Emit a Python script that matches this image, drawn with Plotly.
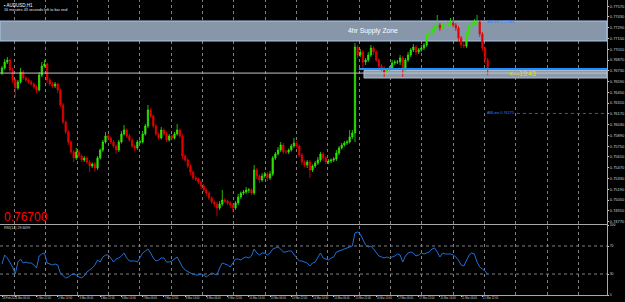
import plotly.graph_objects as go

# ---------------- data ----------------
SYMBOL = "AUDUSD,H1"
BAR_HOURS = 2            # each drawn candle = 2 trading hours
FIRST_OPEN = 0.76700
POINT = 0.00001

CLOSES = [
    0.76766, 0.76844, 0.76870, 0.76740, 0.76610, 0.76506, 0.76584, 0.76714, 0.76636, 0.76610,
    0.76584, 0.76558, 0.76519, 0.76480, 0.76675, 0.76792, 0.76818, 0.76610, 0.76558, 0.76532,
    0.76558, 0.76480, 0.76285, 0.76064, 0.75934, 0.75804, 0.75674, 0.75596, 0.75674, 0.75622,
    0.75570, 0.75596, 0.75544, 0.75492, 0.75518, 0.75466, 0.75596, 0.75700, 0.75804, 0.75882,
    0.75856, 0.75804, 0.75752, 0.75700, 0.75804, 0.75908, 0.75960, 0.75882, 0.75830, 0.75752,
    0.75726, 0.75804, 0.75804, 0.75908, 0.76012, 0.76220, 0.76142, 0.76012, 0.75908, 0.75856,
    0.75960, 0.75908, 0.75830, 0.75882, 0.75856, 0.75908, 0.75960, 0.75882, 0.75622, 0.75570,
    0.75492, 0.75414, 0.75336, 0.75323, 0.75284, 0.75232, 0.75180, 0.75141, 0.75076, 0.75024,
    0.74998, 0.74946, 0.74998, 0.75050, 0.75037, 0.75011, 0.74985, 0.74946, 0.75011, 0.75089,
    0.75141, 0.75154, 0.75180, 0.75180, 0.75141, 0.75440, 0.75362, 0.75310, 0.75362, 0.75388,
    0.75336, 0.75388, 0.75596, 0.75648, 0.75700, 0.75765, 0.75674, 0.75674, 0.75700, 0.75752,
    0.75791, 0.75752, 0.75635, 0.75544, 0.75505, 0.75544, 0.75440, 0.75492, 0.75531, 0.75570,
    0.75648, 0.75596, 0.75544, 0.75557, 0.75570, 0.75583, 0.75661, 0.75726, 0.75765, 0.75791,
    0.75804, 0.75869, 0.75921, 0.77039, 0.76935, 0.76974, 0.76844, 0.76870, 0.76935, 0.77026,
    0.76974, 0.76870, 0.76792, 0.76766, 0.76714, 0.76740, 0.76766, 0.76831, 0.76844, 0.76844,
    0.76896, 0.76740, 0.76870, 0.76935, 0.77000, 0.77039, 0.76974, 0.77000, 0.77026, 0.77065,
    0.77182, 0.77221, 0.77273, 0.77299, 0.77325, 0.77286, 0.77312, 0.77325, 0.77338, 0.77351,
    0.77325, 0.77286, 0.77156, 0.77065, 0.77052, 0.77208, 0.77312, 0.77351, 0.77364, 0.77364,
    0.77208, 0.77026, 0.76870, 0.76753,
]

HIGH_WICK = [  # in points
    26, 39, 39, 20, 26, 20, 26, 52, 26, 20,
    20, 26, 20, 26, 39, 52, 52, 20, 26, 26,
    26, 20, 20, 26, 20, 26, 20, 26, 52, 26,
    20, 26, 20, 26, 20, 26, 26, 20, 26, 52,
    26, 20, 26, 20, 26, 39, 65, 20, 26, 20,
    20, 26, 26, 39, 26, 65, 26, 20, 26, 20,
    39, 20, 26, 26, 20, 26, 78, 20, 26, 20,
    20, 26, 20, 26, 20, 20, 26, 20, 26, 20,
    20, 26, 39, 130, 26, 20, 26, 20, 26, 39,
    20, 26, 39, 26, 20, 65, 26, 20, 39, 26,
    26, 39, 26, 26, 39, 39, 26, 26, 20, 26,
    65, 26, 20, 26, 20, 26, 26, 20, 26, 39,
    26, 26, 20, 26, 20, 26, 39, 26, 26, 26,
    26, 91, 39, 52, 26, 39, 26, 26, 39, 39,
    26, 26, 20, 26, 20, 26, 26, 39, 26, 26,
    39, 26, 26, 39, 26, 39, 26, 26, 39, 26,
    39, 39, 26, 26, 130, 26, 39, 26, 39, 65,
    26, 26, 26, 26, 39, 39, 39, 26, 39, 91,
    26, 26, 20, 26,
]

LOW_WICK = [  # in points
    26, 20, 26, 26, 39, 117, 26, 20, 26, 26,
    26, 20, 26, 39, 20, 26, 20, 39, 26, 26,
    26, 39, 26, 26, 26, 39, 26, 52, 26, 26,
    26, 26, 26, 78, 26, 52, 26, 20, 26, 20,
    26, 26, 26, 52, 26, 20, 20, 26, 26, 26,
    39, 26, 20, 20, 20, 26, 26, 26, 26, 26,
    20, 26, 26, 20, 26, 20, 20, 26, 39, 26,
    26, 39, 26, 26, 26, 39, 26, 39, 26, 26,
    39, 104, 26, 26, 26, 26, 39, 52, 26, 26,
    26, 26, 26, 39, 26, 26, 39, 39, 26, 26,
    39, 26, 26, 26, 20, 26, 26, 26, 26, 20,
    26, 26, 26, 39, 26, 39, 104, 26, 26, 26,
    26, 39, 26, 26, 26, 26, 26, 26, 20, 20,
    26, 20, 26, 117, 39, 26, 78, 39, 26, 26,
    39, 26, 39, 39, 65, 26, 26, 26, 26, 26,
    39, 91, 26, 26, 26, 26, 39, 26, 26, 26,
    26, 26, 26, 26, 26, 39, 26, 26, 26, 26,
    26, 39, 52, 39, 26, 26, 26, 26, 26, 39,
    39, 39, 52, 78,
]

RSI = [
    44.3, 57.1, 52.9, 45.7, 40.0, 30.0, 47.1, 51.4, 45.7, 47.1,
    45.7, 45.7, 42.9, 38.6, 55.7, 58.6, 60.0, 45.7, 44.3, 42.9,
    44.3, 42.9, 31.4, 27.1, 24.3, 25.7, 28.6, 30.0, 28.6, 25.7,
    24.3, 27.1, 32.9, 35.7, 38.6, 42.9, 50.0, 47.1, 54.3, 57.1,
    57.1, 52.9, 47.1, 51.4, 52.9, 55.7, 60.0, 52.9, 48.6, 48.6,
    48.6, 47.1, 52.9, 60.0, 62.9, 65.7, 60.0, 52.9, 48.6, 50.0,
    52.9, 52.9, 47.1, 47.1, 48.6, 51.4, 54.3, 47.1, 40.0, 35.7,
    32.9, 31.4, 30.0, 28.6, 28.6, 30.0, 28.6, 25.7, 28.6, 31.4,
    30.0, 28.6, 38.6, 45.7, 44.3, 42.9, 40.0, 45.7, 51.4, 51.4,
    50.0, 52.9, 54.3, 52.9, 55.7, 65.7, 60.0, 57.1, 60.0, 60.0,
    57.1, 60.0, 65.7, 67.1, 68.6, 65.7, 61.4, 61.4, 62.9, 62.9,
    58.6, 54.3, 48.6, 48.6, 47.1, 45.7, 41.4, 45.7, 47.1, 54.3,
    60.0, 52.9, 51.4, 50.0, 52.9, 54.3, 61.4, 62.9, 64.3, 65.7,
    67.1, 68.6, 70.0, 88.6, 90.0, 87.1, 78.6, 71.4, 68.6, 70.0,
    65.7, 61.4, 55.7, 54.3, 52.9, 54.3, 52.9, 54.3, 55.7, 58.6,
    57.1, 47.1, 55.7, 60.0, 61.4, 60.0, 55.7, 57.1, 60.0, 58.6,
    60.0, 61.4, 65.7, 67.1, 61.4, 54.3, 60.0, 58.6, 58.6, 58.6,
    57.1, 54.3, 50.0, 42.9, 41.4, 48.6, 57.1, 60.0, 58.6, 47.1,
    40.0, 37.1, 34.3, 29.6,
]

PRICE_TICKS = [0.7757, 0.7743, 0.7729, 0.7715, 0.7701, 0.7687, 0.7673, 0.7659,
               0.7645, 0.7631, 0.7617, 0.7603, 0.7589, 0.7575, 0.7561, 0.7547,
               0.7533, 0.7519, 0.7505, 0.7491, 0.7477]
PRICE_LABELS = ["%.5f" % v for v in PRICE_TICKS]

TIME_LABELS = ["28 Feb 2017", "1 Mar 06:00", "1 Mar 22:00", "2 Mar 14:00", "3 Mar 06:00",
               "3 Mar 22:00", "6 Mar 14:00", "7 Mar 06:00", "7 Mar 22:00", "8 Mar 14:00",
               "9 Mar 06:00", "9 Mar 22:00", "10 Mar 14:00", "13 Mar 06:00", "13 Mar 22:00",
               "14 Mar 14:00", "15 Mar 06:00", "15 Mar 22:00", "16 Mar 14:00", "17 Mar 06:00",
               "17 Mar 22:00", "20 Mar 14:00", "21 Mar 06:00", "21 Mar 22:00"]
TIME_LABEL_HOURS = [0] + [10 + 16 * k for k in range(len(TIME_LABELS) - 1)]

RSI_TICKS = [0, 30, 70, 100]
RSI_LEVELS = [30, 70]

SUPPLY_ZONE = (0.77117, 0.77377)
LOWER_ZONE = (0.76636, 0.76733)
LOWER_ZONE_START_H = 272.8
BID_LEVEL = 0.76700
BLUE_LEVEL = 0.76753
BLUE_LEVEL_START_H = 269.0
AB_LEVEL = 0.76175
AB_LEVEL_START_H = 388.0
AB_TOP_LEVEL = 0.77364

# ---------------- build ----------------
n = len(CLOSES)
xs = [i * BAR_HOURS for i in range(n)]
opens = [FIRST_OPEN] + CLOSES[:-1]
highs = [max(o, c) + w * POINT for o, c, w in zip(opens, CLOSES, HIGH_WICK)]
lows = [min(o, c) - w * POINT for o, c, w in zip(opens, CLOSES, LOW_WICK)]

W, H = 625, 302
ML, MR, MT, MB = 0, 18, 0, 7
PW, PH = W - ML - MR, H - MT - MB
PX_PER_H = 1.327
X0 = -2 / PX_PER_H
X1 = X0 + PW / PX_PER_H
# vertical grid every ~31.3 px, snapped to pixel centres so the dots stay crisp
GRID_PX = [round(14 + 31.33 * k) + 0.5 for k in range(19)]
GRID = [X0 + p / PX_PER_H for p in GRID_PX]

main_bottom = 1 - 224 / PH
rsi_top = 70 / PH

FONT = "Liberation Sans, Arial, sans-serif"
AXC = "#d0d0d0"
GRIDC = "#808080"

fig = go.Figure()
fig.add_trace(go.Candlestick(
    x=xs, open=opens, high=highs, low=lows, close=CLOSES,
    xaxis="x", yaxis="y",
    increasing=dict(line=dict(color="#2ee600", width=0.8), fillcolor="#2ee600"),
    decreasing=dict(line=dict(color="#e60000", width=0.8), fillcolor="#e60000"),
    whiskerwidth=0, showlegend=False, hoverinfo="skip"))
fig.add_trace(go.Scatter(
    x=xs, y=RSI, xaxis="x2", yaxis="y2", mode="lines",
    line=dict(color="#1f6fd6", width=1), showlegend=False, hoverinfo="skip"))
fig.add_trace(go.Scatter(
    x=[X0], y=[50], xaxis="x3", yaxis="y2", mode="markers",
    marker=dict(opacity=0), showlegend=False, hoverinfo="skip"))

axline = dict(showline=True, mirror=True, linecolor="#a8a8a8", linewidth=1, zeroline=False,
              automargin=False)

fig.update_layout(
    width=W, height=H,
    margin=dict(l=ML, r=MR, t=MT, b=MB, autoexpand=False),
    paper_bgcolor="black", plot_bgcolor="black",
    font=dict(family=FONT, color=AXC, size=5),
    showlegend=False,
    xaxis=dict(domain=[0, 1], anchor="y", range=[X0, X1], showticklabels=False,
               ticks="", showgrid=False, rangeslider=dict(visible=False), **axline),
    yaxis=dict(domain=[main_bottom, 1], anchor="x", side="right",
               range=[0.74738, 0.77650], tickvals=PRICE_TICKS, ticktext=PRICE_LABELS,
               showgrid=False, ticks="outside", ticklen=1, tickcolor=AXC,
               ticklabelstandoff=0,
               tickfont=dict(size=4.0, color=AXC), **axline),
    xaxis2=dict(domain=[0, 1], anchor="y2", range=[X0, X1], showticklabels=False,
                ticks="", showgrid=False, **axline),
    xaxis3=dict(overlaying="x2", anchor="y2", side="bottom", range=[X0, X1],
                tickvals=TIME_LABEL_HOURS, ticktext=TIME_LABELS, showgrid=False,
                ticks="outside", ticklen=1, tickcolor=AXC, tickangle=0,
                ticklabelposition="outside right", ticklabelstandoff=0,
                tickfont=dict(size=2.6, color=AXC), zeroline=False, showline=False,
                automargin=False),
    yaxis2=dict(domain=[0, rsi_top], anchor="x2", side="right", range=[0, 100],
                tickvals=RSI_TICKS, showgrid=False, ticks="outside", ticklen=1,
                tickcolor=AXC, ticklabelstandoff=0,
                tickfont=dict(size=3.4, color=AXC), **axline),
)

dot = dict(color=GRIDC, width=1, dash="dot")
shapes = []
# vertical grid (main + RSI panes) and RSI level lines, drawn first (underneath)
for g in GRID:
    shapes.append(dict(type="line", xref="x", yref="paper", x0=g, x1=g,
                       y0=main_bottom, y1=1, line=dot, layer="below"))
    shapes.append(dict(type="line", xref="x2", yref="paper", x0=g, x1=g,
                       y0=0, y1=rsi_top, line=dot, layer="below"))
for lv in RSI_LEVELS:
    shapes.append(dict(type="line", xref="paper", yref="y2", x0=0, x1=1, y0=lv, y1=lv,
                       line=dot, layer="below"))
shapes += [
    dict(type="rect", xref="paper", yref="y", x0=0, x1=1,
         y0=SUPPLY_ZONE[0], y1=SUPPLY_ZONE[1], fillcolor="#8796a8",
         line=dict(color="#a8cbee", width=1), layer="below"),
    dict(type="rect", xref="x", yref="y", x0=LOWER_ZONE_START_H, x1=X1,
         y0=LOWER_ZONE[0], y1=LOWER_ZONE[1], fillcolor="#8c9aab",
         line=dict(color="#b0c0d0", width=1), layer="below"),
    dict(type="line", xref="paper", yref="y", x0=0, x1=1, y0=BID_LEVEL, y1=BID_LEVEL,
         line=dict(color="#c4c4c4", width=1), layer="above"),
    dict(type="line", xref="x", yref="y", x0=BLUE_LEVEL_START_H, x1=X1,
         y0=BLUE_LEVEL, y1=BLUE_LEVEL, line=dict(color="#1e90ff", width=2), layer="above"),
    dict(type="line", xref="x", yref="y", x0=AB_LEVEL_START_H, x1=X1,
         y0=AB_LEVEL, y1=AB_LEVEL, line=dict(color="#1e64b4", width=1, dash="dot"),
         layer="above"),
]
fig.update_layout(shapes=shapes)

ann = [
    dict(xref="paper", yref="paper", x=0.004, y=1 - 1 / PH, xanchor="left", yanchor="top",
         text="▪ " + SYMBOL, showarrow=False, font=dict(size=4.5, color="white")),
    dict(xref="paper", yref="paper", x=0.004, y=1 - 6 / PH, xanchor="left", yanchor="top",
         text="16 minutes 43 seconds left to bar end", showarrow=False,
         font=dict(size=3.8, color="#e0e0e0")),
    dict(xref="x", yref="y", x=259.5, y=(SUPPLY_ZONE[0] + SUPPLY_ZONE[1]) / 2,
         xanchor="left", yanchor="middle", text="4hr Supply Zone", showarrow=False,
         font=dict(size=6.8, color="white")),
    dict(xref="x", yref="y", x=380.5, y=BID_LEVEL, xanchor="left", yanchor="middle",
         text="<---19:43", showarrow=False, font=dict(size=6.5, color="#e6e600")),
    dict(xref="paper", yref="paper", x=0.003, y=1 - 216.5 / PH, xanchor="left",
         yanchor="middle", text="0.76700", showarrow=False,
         font=dict(size=12, color="#ff0000")),
    dict(xref="paper", yref="paper", x=0.003, y=1 - 227.5 / PH, xanchor="left",
         yanchor="middle", text="RSI(14) 29.6099", showarrow=False,
         font=dict(size=3.6, color="#d8d8d8")),
    dict(xref="x", yref="y", x=AB_LEVEL_START_H - 0.5, y=AB_LEVEL, xanchor="right",
         yanchor="middle", text="ABLine 0.76175", showarrow=False,
         font=dict(size=3.8, color="#2a80ff")),
    dict(xref="x", yref="y", x=AB_LEVEL_START_H - 0.5, y=AB_TOP_LEVEL, xanchor="right",
         yanchor="middle", text="ABLine 0.77364", showarrow=False,
         font=dict(size=3.8, color="#2a80ff")),
]
fig.update_layout(annotations=ann)

fig.write_html("out.html")
